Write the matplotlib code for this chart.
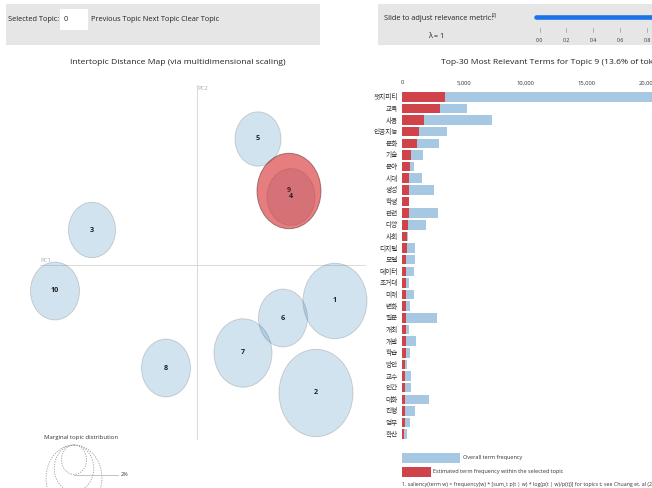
import matplotlib
matplotlib.use('Agg')
import matplotlib.pyplot as plt
from matplotlib.patches import Ellipse, Rectangle
import numpy as np

plt.rcParams['font.family'] = ['Open Sans', 'Noto Sans CJK KR', 'DejaVu Sans']

W, H = 652, 488

# ---- data: intertopic distance map ----
topic_ids = [1, 2, 3, 4, 5, 6, 7, 8, 9, 10]
topic_x = [0.138, 0.119, -0.105, 0.094, 0.061, 0.086, 0.046, -0.031, 0.092, -0.142]
topic_y = [-0.036, -0.128, 0.035, 0.068, 0.126, -0.053, -0.088, -0.103, 0.074, -0.026]
topic_r = [0.032, 0.037, 0.0235, 0.024, 0.023, 0.0245, 0.029, 0.0245, 0.032, 0.0245]
selected_topic = 9

# ---- data: top-30 terms ----
terms = ['챗지피티', '교육', '사용', '인공지능', '문화', '기술', '분야', '시대', '생성', '학생',
         '관련', '다양', '사회', '디지털', '모델', '데이터', '초거대', '미래', '변화', '질문',
         '개최', '개발', '학습', '방안', '교수', '인간', '대화', '진행', '업무', '확산']
overall_freq = [21500, 5300, 7300, 3650, 3000, 1700, 1000, 1630, 2600, 600,
                2930, 1950, 520, 1070, 1030, 1000, 600, 1000, 650, 2850,
                540, 1100, 680, 400, 760, 740, 2220, 1070, 620, 380]
topic_freq = [3500, 3100, 1800, 1400, 1220, 730, 650, 570, 570, 590,
              570, 490, 400, 400, 350, 350, 325, 325, 325, 325,
              300, 300, 300, 270, 270, 250, 250, 250, 220, 190]
xticks_vals = [0, 5000, 10000, 15000, 20000]
lambda_ticks = [0.0, 0.2, 0.4, 0.6, 0.8, 1.0]
marginal_labels = ['2%', '5%', '10%']
marginal_vals = [2, 5, 10]

fig = plt.figure(figsize=(W / 100, H / 100), dpi=100)


def px_axes(x0, y0, x1, y1, **kw):
    return fig.add_axes([x0 / W, 1 - y1 / H, (x1 - x0) / W, (y1 - y0) / H], **kw)


# ---- canvas for page decorations ----
cv = px_axes(0, 0, W, H)
cv.set_xlim(0, W)
cv.set_ylim(H, 0)
cv.axis('off')
cv.set_zorder(0)

gray = '#e6e6e6'
cv.add_patch(Rectangle((6, 4), 314, 41, facecolor=gray, edgecolor='none'))
cv.add_patch(Rectangle((378, 4), 300, 41, facecolor=gray, edgecolor='none'))
cv.add_patch(Rectangle((60, 9), 28, 21, facecolor='white', edgecolor='none'))
cv.text(8, 19.5, 'Selected Topic:', fontsize=5.3, va='center', ha='left', color='#222')
cv.text(64, 19.5, '0', fontsize=5.3, va='center', ha='left', color='#222')
cv.text(91, 19.5, 'Previous Topic Next Topic Clear Topic', fontsize=5.3, va='center', ha='left', color='#222')
cv.text(384, 18, 'Slide to adjust relevance metric:', fontsize=5.3, va='center', ha='left', color='#222')
cv.text(492, 15, '(2)', fontsize=3.3, va='center', ha='left', color='#222')
cv.text(436, 36, 'λ = 1', fontsize=5.3, va='center', ha='center', color='#222')

# slider
sx0, sstep = 539.5, 26.9
cv.plot([536, 680], [17, 17], color='#1a73e8', lw=3.3, solid_capstyle='round')
for v in lambda_ticks:
    xx = sx0 + v / 0.2 * sstep
    cv.plot([xx, xx], [28, 32], color='#999', lw=0.5)
    cv.text(xx, 40, f'{v:.1f}', fontsize=3.8, ha='center', va='center', color='#333')

# titles
cv.text(178, 62, 'Intertopic Distance Map (via multidimensional scaling)', fontsize=6.1,
        ha='center', va='center', color='#222')
cv.text(441, 62, 'Top-30 Most Relevant Terms for Topic 9 (13.6% of tokens)', fontsize=6.1,
        ha='left', va='center', color='#222')

# ---- intertopic map ----
mx0, mx1, my0, my1 = 20, 375, 75, 440
ox, oy, sc = 197, 265, 1000.0
am = px_axes(mx0, my0, mx1, my1)
am.set_xlim((mx0 - ox) / sc, (mx1 - ox) / sc)
am.set_ylim((oy - my1) / sc, (oy - my0) / sc)
am.axis('off')
am.set_zorder(1)
am.patch.set_alpha(0)

stretch = 1.18
am.plot([(40 - ox) / sc, (365 - ox) / sc], [0, 0], color='#d9d9d9', lw=0.7, zorder=1)
am.plot([0, 0], [(oy - 85) / sc, (oy - 440) / sc], color='#d9d9d9', lw=0.7, zorder=1)
am.text((40 - ox) / sc, 0.002, 'PC1', fontsize=4.3, color='#aaaaaa', ha='left', va='bottom')
am.text(0.0005, (oy - 88) / sc, 'PC2', fontsize=4.3, color='#aaaaaa', ha='left', va='center')

for i, (t, x, y, r) in enumerate(zip(topic_ids, topic_x, topic_y, topic_r)):
    if t == selected_topic:
        fc, alpha, ec = '#d62728', 0.6, (0.35, 0.2, 0.2, 0.6)
    else:
        fc, alpha, ec = '#1f77b4', 0.2, (0.4, 0.4, 0.4, 0.3)
    am.add_patch(Ellipse((x, y), 2 * r, 2 * r * stretch, facecolor=fc, alpha=alpha,
                         edgecolor='none', zorder=2 + i))
    am.add_patch(Ellipse((x, y), 2 * r, 2 * r * stretch, facecolor='none', edgecolor=ec,
                         lw=0.6, zorder=2 + i))
for t, x, y in zip(topic_ids, topic_x, topic_y):
    am.text(x, y, str(t), fontsize=5.2, fontweight='bold', ha='center', va='center',
            color='#222' if t != selected_topic else '#5a1a1a', zorder=20)

# marginal topic distribution legend
cv.text(81, 437, 'Marginal topic distribution', fontsize=4.3, ha='center', va='center', color='#333')
r_small = 12.5
for lab, v in zip(marginal_labels, marginal_vals):
    r = r_small * np.sqrt(v / marginal_vals[0])
    ry = r * stretch
    cv.add_patch(Ellipse((74, 445 + ry), 2 * r, 2 * ry, facecolor='none', edgecolor='#999',
                         lw=0.6, linestyle=(0, (1.5, 1.5))))
    cv.plot([74, 118], [445 + 2 * ry, 445 + 2 * ry], color='#aaa', lw=0.5)
    cv.text(121, 445 + 2 * ry, lab, fontsize=4.0, ha='left', va='center', color='#333')

# ---- bar chart ----
bx0, bx1, by0, by1 = 402, 652, 91, 440
ab = px_axes(bx0, by0, bx1, by1)
ab.set_zorder(1)
ab.patch.set_alpha(0)
n = len(terms)
yy = np.arange(n)
ab.barh(yy, overall_freq, height=0.82, color='#a6c8e2', zorder=2)
ab.barh(yy, topic_freq, height=0.82, color='#d0434b', zorder=3)
ab.set_ylim(n - 0.5, -0.5)
ab.set_xlim(0, (bx1 - bx0) / 12.3 * 1000)
ab.set_yticks(yy)
ab.set_yticklabels(terms, fontsize=4.8, color='#333')
ab.xaxis.tick_top()
ab.set_xticks(xticks_vals)
ab.set_xticklabels([f'{v:,}' for v in xticks_vals], fontsize=4.2, color='#333')
ab.tick_params(axis='both', length=0)
ab.tick_params(axis='x', pad=4)
ab.tick_params(axis='y', pad=3)
for s in ab.spines.values():
    s.set_visible(False)

# bar legend
cv.add_patch(Rectangle((402, 453), 58, 10, facecolor='#a6c8e2', edgecolor='none'))
cv.text(463, 458, 'Overall term frequency', fontsize=4.0, ha='left', va='center', color='#333')
cv.add_patch(Rectangle((402, 467), 29, 10, facecolor='#d0434b', edgecolor='none'))
cv.text(433, 472, 'Estimated term frequency within the selected topic', fontsize=4.0,
        ha='left', va='center', color='#333')
cv.text(402, 484.5, '1. saliency(term w) = frequency(w) * [sum_t p(t | w) * log(p(t | w)/p(t))] for topics t; see Chuang et. al (2012)',
        fontsize=3.8, ha='left', va='center', color='#333')

fig.savefig('out.png', dpi=100)
